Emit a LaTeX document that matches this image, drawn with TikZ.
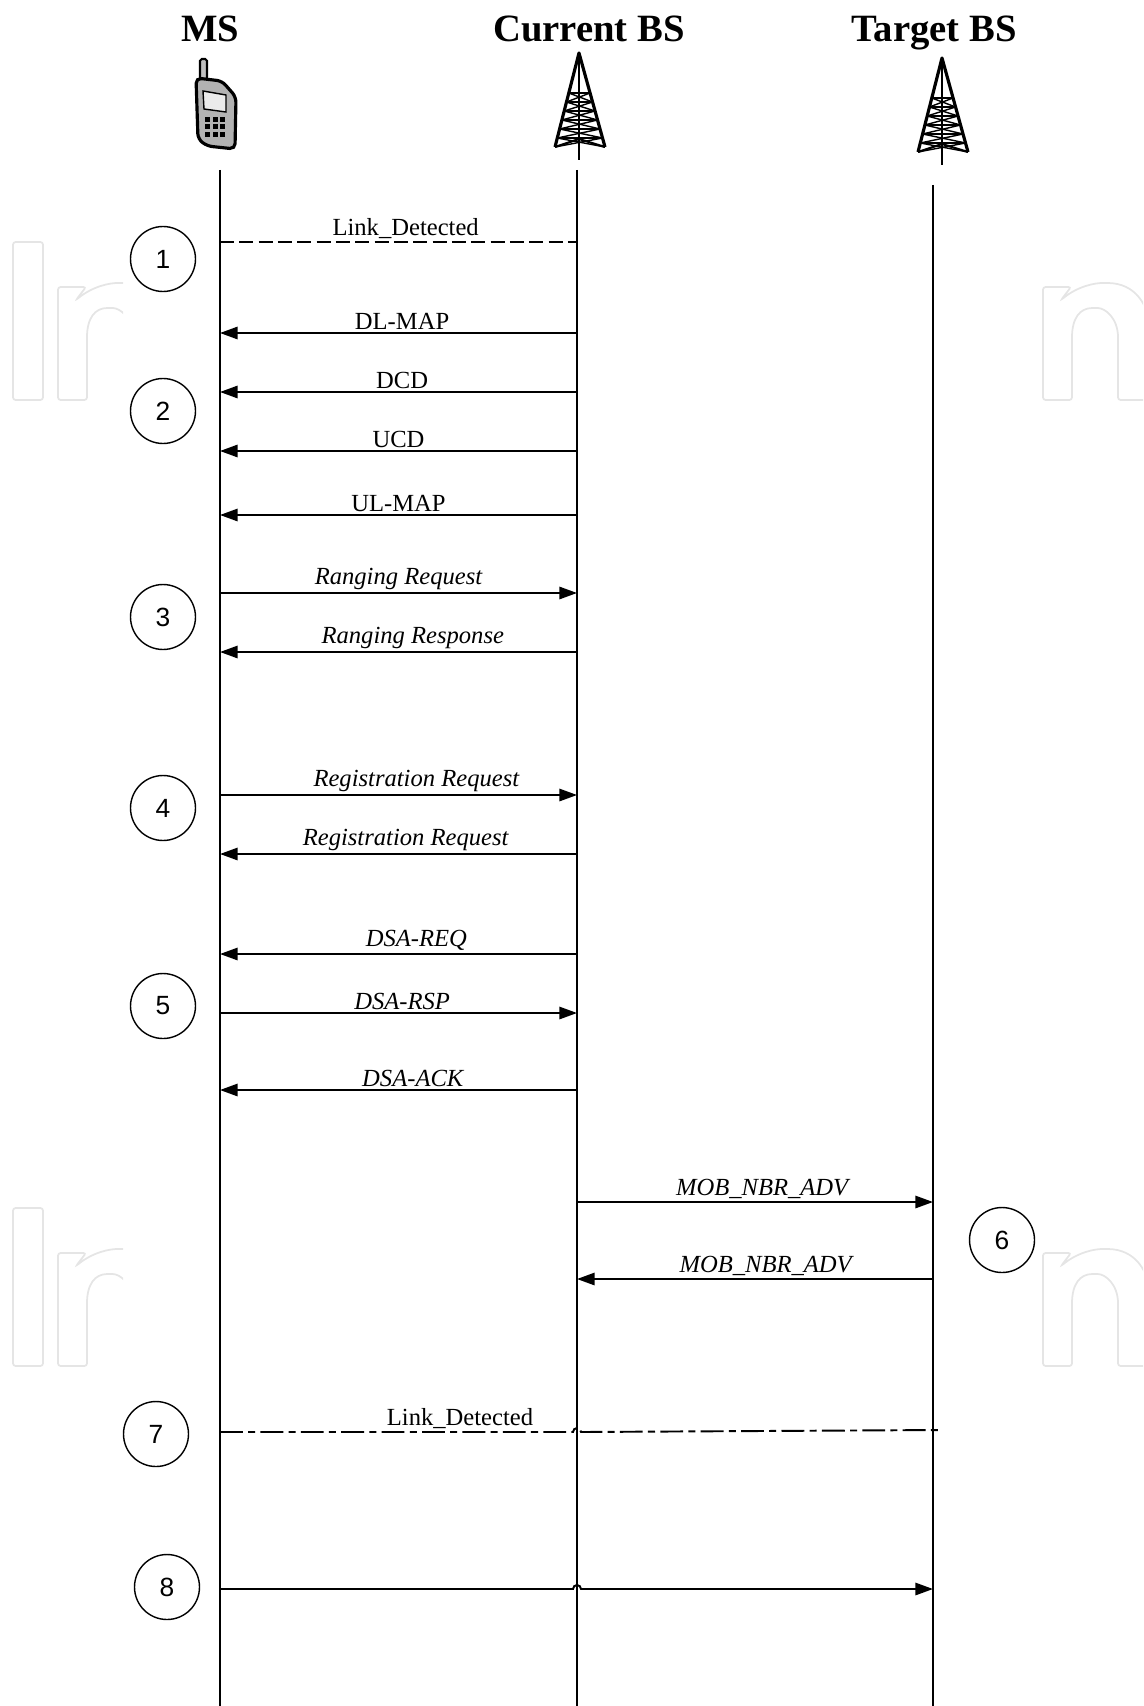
\documentclass[tikz,border=0pt]{standalone}
\usepackage{fontspec}
\setmainfont{Liberation Serif}
\newfontfamily\numfont{Liberation Sans}
\usetikzlibrary{arrows.meta,calc}

\tikzset{
	title/.style={anchor=base,font=\fontsize{22}{26}\selectfont\bfseries},
	lifeline/.style={line width=1.1pt},
	msg/.style={line width=1.1pt},
	tobs/.style={msg,-{Triangle[length=10pt,width=7pt]}},
	toms/.style={msg,{Triangle[length=10pt,width=7pt]}-},
	linkdash/.style={msg,dash pattern=on 8pt off 3pt},
	linkdashdot/.style={msg,dash pattern=on 13pt off 3pt on 4pt off 3pt},
	lbl/.style={above,inner sep=1.5pt,font=\fontsize{14}{16}\selectfont},
	ilbl/.style={lbl,font=\fontsize{14}{16}\selectfont\itshape},
	num/.style={circle,draw,line width=0.8pt,minimum size=1.3cm,inner sep=0pt,font=\numfont\fontsize{15}{15}\selectfont},
	wm/.style={draw=black!10,line width=1pt,rounded corners=1.5pt},
	tower/.pic={
		\draw[line width=1.8pt,line join=round] (-24,94) -- (0,0) -- (26,94);
		\draw[line width=1.4pt] (0,0) -- (0,107);
		\foreach \k in {0,...,5} {
			\pgfmathsetmacro\ya{40+9*\k}
			\pgfmathsetmacro\yb{49+9*\k}
			\draw[line width=0.9pt] (-24*\ya/94,\ya) -- (26*\ya/94,\ya);
			\draw[line width=0.8pt] (-24*\ya/94,\ya) -- (26*\yb/94,\yb);
			\draw[line width=0.8pt] (26*\ya/94,\ya) -- (-24*\yb/94,\yb);
		}
		\draw[line width=1.2pt] (-24,94) -- (0,86) -- (26,94);
	},
	logon/.pic={
		\draw[wm] (0,113) -- (0,0) -- (28,0) -- (18,13) .. controls (35,-1) and (52,-4) .. (62,-4)
			.. controls (92,-4) and (107,18) .. (107,48) -- (107,113) -- (75,113) -- (75,53)
			.. controls (75,31) and (62,21) .. (52,21) .. controls (37,21) and (29,31) .. (29,53)
			-- (29,113) -- cycle;
	}
}

\begin{document}
\begin{tikzpicture}[x=0.02cm,y=-0.02cm]
	\useasboundingbox (0,0) rectangle (1143,1706);

	% faint watermark at the sides
	\begin{scope}
		\clip (0,0) rectangle (123,1706) (1030,0) rectangle (1143,1706);
		\draw[wm] (13,242) rectangle (43,400);
		\draw[wm] (13,1208) rectangle (43,1366);
		\pic at (58,287) {logon};
		\pic at (58,1253) {logon};
		\pic at (1043,287) {logon};
		\pic at (1043,1253) {logon};
	\end{scope}

	% entities
	\node[title] (ms-title) at (210,42) {MS};
	\node[title] (cbs-title) at (589,42) {Current BS};
	\node[title] (tbs-title) at (934,42) {Target BS};

	% mobile
	\draw[line width=1.2pt,fill=black!25,rounded corners=1pt] (200,84) rectangle (207,59);
	\draw[line width=1.8pt,fill=black!30,rounded corners=3pt] (196,78) -- (222,81) -- (236,97) -- (235,149) -- (207,146) -- (198,139) -- cycle;
	\draw[line width=0.8pt,fill=black!8] (203,91) -- (226,95) -- (226,112) -- (204,109) -- cycle;
	\foreach \i in {0,1,2} \foreach \j in {0,1,2}
		\fill (205+\i*7.5,117+\j*7.5) rectangle ++(5,5);

	% towers
	\pic at (579,53) {tower};
	\pic at (942,58) {tower};

	% lifelines
	\coordinate (ms) at (220,170);
	\coordinate (cbs) at (577,170);
	\coordinate (tbs) at (933,185);
	\coordinate (ms-end) at (220,1706);
	\coordinate (cbs-end) at (577,1706);
	\coordinate (tbs-end) at (933,1706);
	\draw[lifeline] (ms) -- (ms-end);
	\draw[lifeline] (cbs) -- (cbs-end);
	\draw[lifeline] (tbs) -- (tbs-end);

	% message rows
	\foreach \n/\y in {1/242,2/333,3/392,4/451,5/515,6/593,7/652,8/795,9/854,10/954,11/1013,12/1090,13/1202,14/1279,15/1432,16/1589} {
		\coordinate (a\n) at (220,\y);
		\coordinate (b\n) at (577,\y);
		\coordinate (c\n) at (933,\y);
	}
	\coordinate (d15) at (941,1430);

	\draw[linkdash] (a1) -- node[lbl,pos=.52] {Link\_Detected} (b1);
	\draw[toms] (a2) -- node[lbl,pos=.51] {DL-MAP} (b2);
	\draw[toms] (a3) -- node[lbl,pos=.51] {DCD} (b3);
	\draw[toms] (a4) -- node[lbl,pos=.5] {UCD} (b4);
	\draw[toms] (a5) -- node[lbl,pos=.5] {UL-MAP} (b5);
	\draw[tobs] (a6) -- node[ilbl,pos=.5] {Ranging Request} (b6);
	\draw[toms] (a7) -- node[ilbl,pos=.54] {Ranging Response} (b7);
	\draw[tobs] (a8) -- node[ilbl,pos=.55] {Registration Request} (b8);
	\draw[toms] (a9) -- node[ilbl,pos=.52] {Registration Request} (b9);
	\draw[toms] (a10) -- node[ilbl,pos=.55] {DSA-REQ} (b10);
	\draw[tobs] (a11) -- node[ilbl,pos=.51] {DSA-RSP} (b11);
	\draw[toms] (a12) -- node[ilbl,pos=.54] {DSA-ACK} (b12);
	\draw[tobs] (b13) -- node[ilbl,pos=.52] {MOB\_NBR\_ADV} (c13);
	\draw[tobs] (c14) -- node[ilbl,pos=.47] {MOB\_NBR\_ADV} (b14);
	\draw[linkdashdot] (a15) -- ($(b15)+(-4,0)$) arc[start angle=180,end angle=0,radius=0.08cm] -- (d15);
	\node[lbl] (ld2) at (460,1432) {Link\_Detected};
	\draw[tobs] (a16) -- ($(b16)+(-4,0)$) arc[start angle=180,end angle=0,radius=0.08cm] -- (c16);

	% steps
	\node[num] (s1) at (163,259) {1};
	\node[num] (s2) at (163,411) {2};
	\node[num] (s3) at (163,617) {3};
	\node[num] (s4) at (163,808) {4};
	\node[num] (s5) at (163,1006) {5};
	\node[num] (s6) at (1002,1240) {6};
	\node[num] (s7) at (156,1434) {7};
	\node[num] (s8) at (167,1587) {8};
\end{tikzpicture}
\end{document}
